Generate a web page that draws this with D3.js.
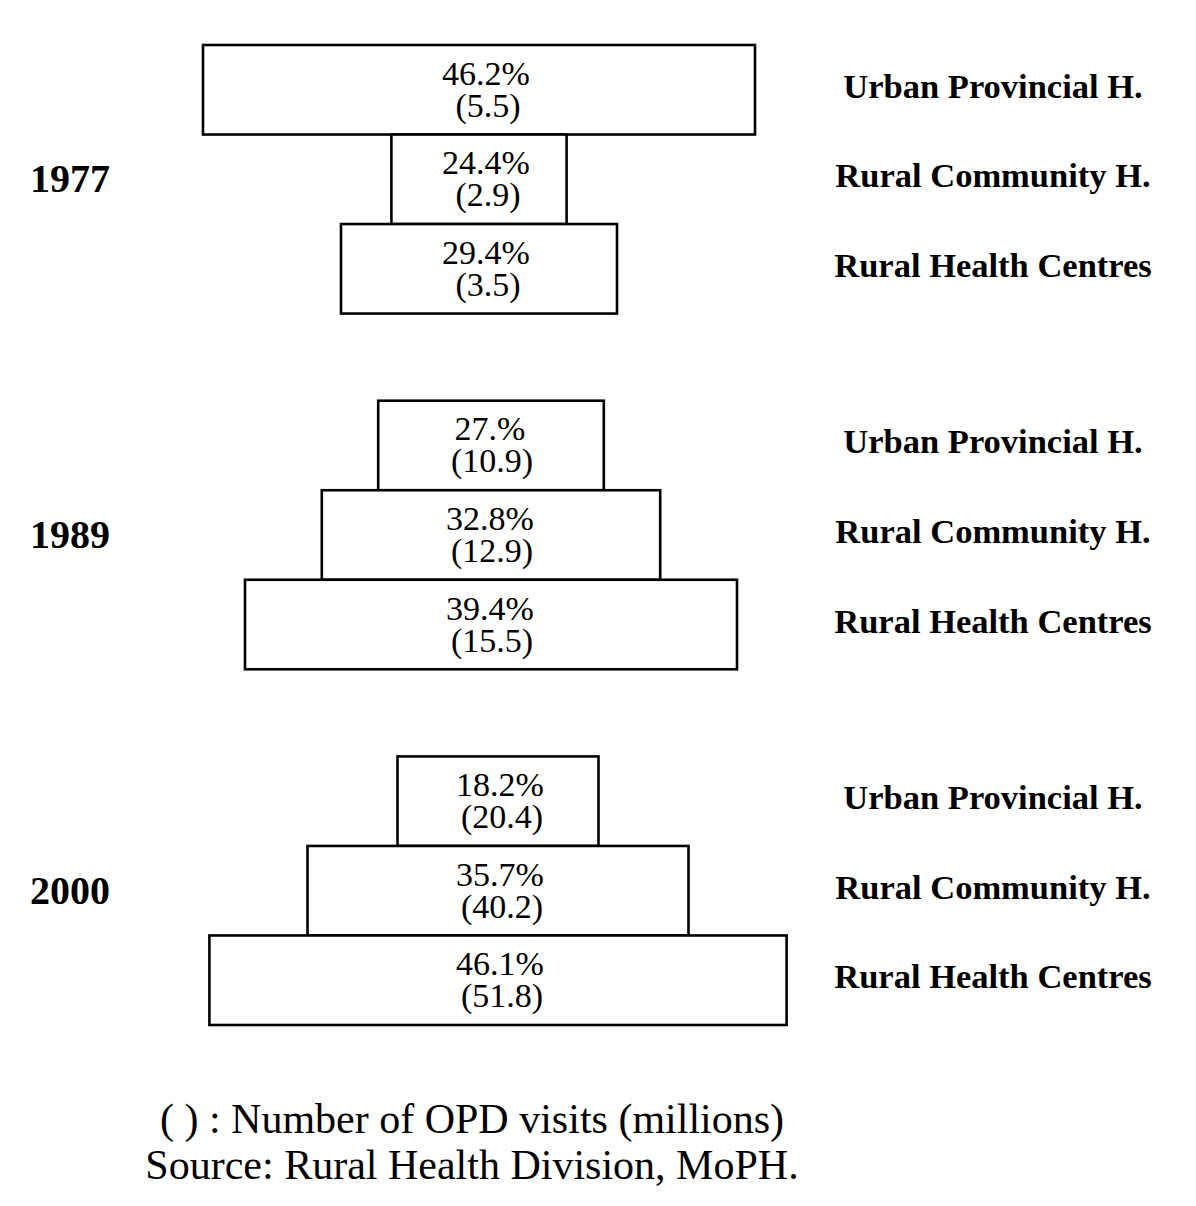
<!DOCTYPE html>
<html>
<head>
<meta charset="utf-8">
<script src="https://cdn.jsdelivr.net/npm/d3@7"></script>
<style>
	body { margin: 0; background: #fff; }
	svg { display: block; }
	text { font-family: "Liberation Serif", "Times New Roman", serif; fill: #000; }
</style>
</head>
<body>
<div class="chart"></div>
<script>
var years = ["1977", "1989", "2000"];
var categories = ["Urban Provincial H.", "Rural Community H.", "Rural Health Centres"];

// share of OPD visits, as printed in each box
var shareLabels = [
	["46.2%", "24.4%", "29.4%"],
	["27.%", "32.8%", "39.4%"],
	["18.2%", "35.7%", "46.1%"]
];
// number of OPD visits (millions)
var visits = [
	[5.5, 2.9, 3.5],
	[10.9, 12.9, 15.5],
	[20.4, 40.2, 51.8]
];
// drawn box widths (diagram units)
var boxSpan = [
	[46, 14.6, 23],
	[18.8, 28.2, 41],
	[16.75, 31.75, 48.1]
];

var footnotes = ["( ) : Number of OPD visits (millions)", "Source: Rural Health Division, MoPH."];

var width = 1196, height = 1206;
//layout: horizontal centre of each year's stack and of its box texts
var centerX = {"1977": 479, "1989": 491, "2000": 498};
var textX = {"1977": 486, "1989": 490, "2000": 500};

var svg = d3.select(".chart").append("svg")
	.attr("width", width)
	.attr("height", height);

var yGroup = d3.scaleBand()
	.domain(years)
	.range([45, 1025])
	.paddingInner(0.245);

var yRow = d3.scaleBand()
	.domain(categories)
	.range([0, yGroup.bandwidth()]);

var wScale = d3.scaleLinear()
	.domain([0, 50])
	.range([0, 600]);

years.forEach(function(year, gi) {
	var g = svg.append("g")
		.attr("class", "group")
		.attr("transform", "translate(0," + yGroup(year) + ")");

	var rows = categories.map(function(cat, ri) {
		return {cat: cat, share: shareLabels[gi][ri], visits: visits[gi][ri], span: boxSpan[gi][ri]};
	});

	g.selectAll("rect")
		.data(rows)
		.enter().append("rect")
		.attr("x", function(d){ return centerX[year] - wScale(d.span)/2 })
		.attr("y", function(d){ return yRow(d.cat) })
		.attr("width", function(d){ return wScale(d.span) })
		.attr("height", yRow.bandwidth())
		.attr("fill", "#fff")
		.attr("stroke", "#000")
		.attr("stroke-width", 2.6);

	//two-line box label: share on top, visits in brackets below
	var lbl = g.selectAll(".boxlabel")
		.data(rows)
		.enter().append("text")
		.attr("class", "boxlabel")
		.attr("text-anchor", "middle")
		.style("font-size", "34px");

	lbl.append("tspan")
		.attr("x", textX[year])
		.attr("y", function(d){ return yRow(d.cat) + yRow.bandwidth()/2 - 5 })
		.text(function(d){ return d.share });

	lbl.append("tspan")
		.attr("x", textX[year] + 2)
		.attr("y", function(d){ return yRow(d.cat) + yRow.bandwidth()/2 + 27 })
		.text(function(d){ return "(" + d.visits.toFixed(1) + ")" });

	g.selectAll(".cat")
		.data(rows)
		.enter().append("text")
		.attr("class", "cat")
		.attr("x", 993)
		.attr("y", function(d){ return yRow(d.cat) + yRow.bandwidth()/2 + 8 })
		.attr("text-anchor", "middle")
		.style("font-size", "34.5px")
		.style("font-weight", "bold")
		.text(function(d){ return d.cat });

	g.append("text")
		.attr("class", "year")
		.attr("x", 70)
		.attr("y", yGroup.bandwidth()/2 + 13)
		.attr("text-anchor", "middle")
		.style("font-size", "40px")
		.style("font-weight", "bold")
		.text(year);
});

svg.selectAll(".foot")
	.data(footnotes)
	.enter().append("text")
	.attr("class", "foot")
	.attr("x", 472)
	.attr("y", function(d, i){ return 1133 + i*46 })
	.attr("text-anchor", "middle")
	.style("font-size", "42px")
	.text(function(d){ return d });
</script>
</body>
</html>
